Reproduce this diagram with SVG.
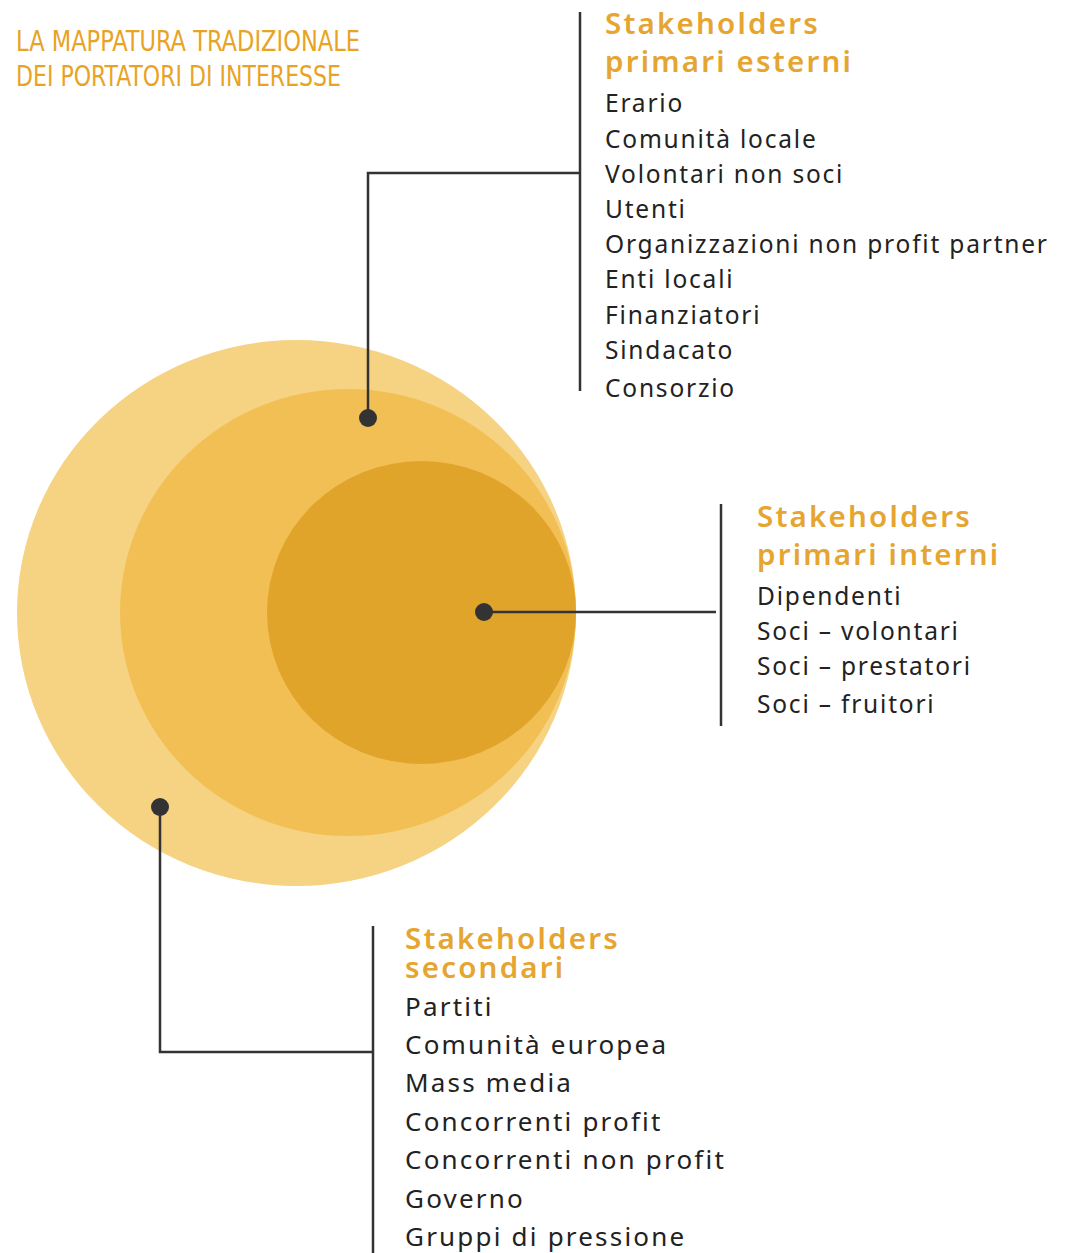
<svg xmlns="http://www.w3.org/2000/svg" width="1069" height="1253" viewBox="0 0 1069 1253">
<style>
.title{font-family:"Liberation Sans Narrow","DejaVu Sans Condensed","Open Sans",sans-serif;font-size:28px;fill:#E8A325;font-weight:300}
.head{font-family:"Noto Sans","Open Sans",sans-serif;font-size:29.5px;font-weight:600;fill:#E5A530;letter-spacing:2.2px}
.item{font-family:"Noto Sans","Open Sans",sans-serif;font-size:24.5px;fill:#222;letter-spacing:1.8px}
.item2{font-family:"Noto Sans","Open Sans",sans-serif;font-size:26px;fill:#222;letter-spacing:2.2px}
.ln{stroke:#333;stroke-width:2.5;fill:none}
.dot{fill:#333}
</style>
<rect width="1069" height="1253" fill="#fff"/>
<g id="title">
<text class="title" x="16" y="51" textLength="344" lengthAdjust="spacingAndGlyphs">LA MAPPATURA TRADIZIONALE</text>
<text class="title" x="16" y="86" textLength="325" lengthAdjust="spacingAndGlyphs">DEI PORTATORI DI INTERESSE</text>
</g>
<g id="circles">
<ellipse id="outer" cx="296.5" cy="613" rx="279.5" ry="273" fill="#F6D283"/>
<ellipse id="middle" cx="348" cy="612.5" rx="228" ry="223.5" fill="#F2BF55"/>
<ellipse id="inner" cx="421.5" cy="612.5" rx="154.5" ry="151.5" fill="#E1A42B"/>
</g>
<g id="connectors">
<polyline class="ln" points="368,418 368,173 580,173"/>
<line class="ln" x1="580" y1="12" x2="580" y2="391"/>
<circle class="dot" cx="368" cy="418" r="9"/>
<line class="ln" x1="484" y1="612" x2="716" y2="612"/>
<line class="ln" x1="721" y1="504" x2="721" y2="726"/>
<circle class="dot" cx="484" cy="612" r="9"/>
<polyline class="ln" points="160,807 160,1052 373,1052"/>
<line class="ln" x1="373" y1="926" x2="373" y2="1253"/>
<circle class="dot" cx="160" cy="807" r="9"/>
</g>
<g id="primari-esterni">
<text class="head" x="605" y="34">Stakeholders</text>
<text class="head" x="605" y="72">primari esterni</text>
<text class="item" x="605" y="112">Erario</text>
<text class="item" x="605" y="148">Comunità locale</text>
<text class="item" x="605" y="183">Volontari non soci</text>
<text class="item" x="605" y="218">Utenti</text>
<text class="item" x="605" y="253">Organizzazioni non profit partner</text>
<text class="item" x="605" y="288">Enti locali</text>
<text class="item" x="605" y="324">Finanziatori</text>
<text class="item" x="605" y="359">Sindacato</text>
<text class="item" x="605" y="397">Consorzio</text>
</g>
<g id="primari-interni">
<text class="head" x="757" y="527">Stakeholders</text>
<text class="head" x="757" y="565">primari interni</text>
<text class="item" x="757" y="605">Dipendenti</text>
<text class="item" x="757" y="640">Soci – volontari</text>
<text class="item" x="757" y="675">Soci – prestatori</text>
<text class="item" x="757" y="713">Soci – fruitori</text>
</g>
<g id="secondari">
<text class="head" x="405" y="949">Stakeholders</text>
<text class="head" x="405" y="978">secondari</text>
<text class="item2" x="405" y="1016">Partiti</text>
<text class="item2" x="405" y="1054">Comunità europea</text>
<text class="item2" x="405" y="1092">Mass media</text>
<text class="item2" x="405" y="1131">Concorrenti profit</text>
<text class="item2" x="405" y="1169">Concorrenti non profit</text>
<text class="item2" x="405" y="1208">Governo</text>
<text class="item2" x="405" y="1246">Gruppi di pressione</text>
</g>
</svg>
